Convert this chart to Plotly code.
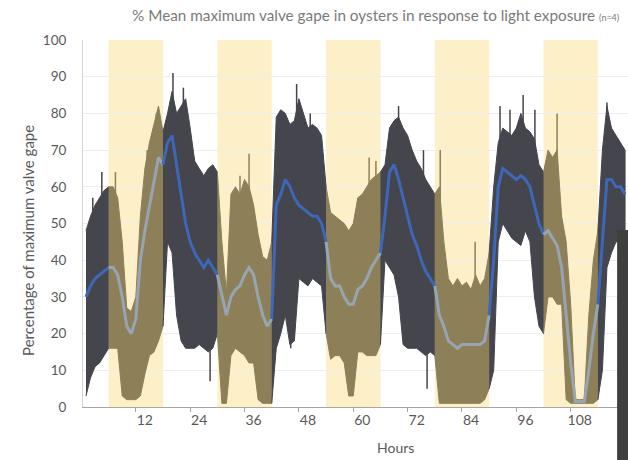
import plotly.graph_objects as go

# ---------------- data ----------------
hours = list(range(-1, 119))

upper = [48, 52, 55, 57, 59, 60,            # -1..4
         60, 57, 45, 27, 26, 30, 52, 65, 72, 77, 82, 75,   # 5..16
         80, 86, 80, 82, 84, 76, 67, 65, 63, 65, 66, 64,   # 17..28
         45, 31, 58, 60, 58, 62, 60, 55, 47, 41, 40, 45,   # 29..40
         79, 81, 80, 77, 78, 84, 80, 76, 77, 76, 74, 60,   # 41..52
         53, 52, 51, 50, 48, 50, 57, 58, 60, 62, 63, 64,   # 53..64
         66, 76, 78, 79, 76, 74, 70, 67, 65, 62, 60, 58,   # 65..76
         60, 45, 35, 33, 35, 33, 34, 32, 36, 33, 35, 42,   # 77..88
         60, 72, 76, 75, 74, 76, 80, 76, 75, 73, 66, 64,   # 89..100
         70, 68, 70, 52, 45, 28, 2, 2, 2, 25, 40, 48,      # 101..112
         70, 82, 76, 74, 72, 70]                           # 113..118

lower = [3, 8, 11, 12, 14, 16,
         16, 16, 3, 2, 2, 2, 3, 9, 14, 15, 18, 22,
         45, 42, 25, 18, 16, 16, 16, 17, 16, 15, 16, 20,
         1, 1, 14, 16, 15, 14, 12, 12, 2, 1, 1, 1,
         16, 20, 25, 17, 18, 35, 34, 33, 35, 34, 33, 20,
         13, 14, 14, 12, 3, 3, 15, 15, 14, 14, 14, 17,
         40, 38, 36, 30, 17, 16, 16, 16, 15, 14, 15, 14,
         1, 1, 1, 1, 1, 1, 1, 1, 1, 1, 2, 5,
         10, 45, 50, 48, 46, 45, 44, 48, 45, 30, 22, 20,
         30, 30, 28, 28, 2, 1, 1, 1, 1, 1, 1, 2,
         10, 38, 42, 45, 45, 46]

mean = [30, 33, 35, 36, 37, 38,
        38, 36, 30, 22, 20, 24, 40, 48, 55, 62, 68, 66,
        72, 74, 66, 58, 50, 45, 42, 40, 38, 40, 38, 36,
        30, 25, 30, 32, 33, 36, 38, 36, 30, 25, 22, 24,
        55, 58, 62, 60, 57, 55, 54, 53, 52, 52, 50, 45,
        35, 33, 33, 30, 28, 28, 32, 33, 35, 38, 40, 42,
        52, 64, 66, 62, 57, 52, 47, 44, 40, 37, 35, 33,
        25, 22, 18, 17, 16, 17, 17, 17, 17, 17, 18, 25,
        40, 60, 65, 64, 63, 62, 63, 62, 60, 55, 50, 47,
        48, 46, 44, 38, 25, 12, 1.5, 1.5, 1.5, 10, 20, 28,
        45, 62, 62, 60, 60, 58]

# isolated spikes (hour, low, high)
spike_hours = [0.5, 2.5, 5.5, 12.5, 14.5, 18.2, 20.5, 26.4, 33.0, 35.0,
               44.2, 45.5, 48.5, 61.5, 63.0, 68.0, 73.5, 74.3, 77.2, 84.9,
               90.4, 92.6, 95.5, 98.1, 103.0, 114.0]
spike_lows = [30, 40, 40, 30, 40, 60, 60, 7, 30, 30,
              16, 60, 50, 30, 30, 50, 40, 5, 30, 20,
              60, 60, 60, 50, 50, 60]
spike_highs = [57, 64, 64, 70, 80, 91, 87, 40, 63, 69,
               40, 88, 80, 68, 67, 82, 70, 30, 70, 45,
               82, 81, 85, 81, 80, 83]

light_starts = [4, 28, 52, 76, 100]
light_length = 12

tick_hours = [12, 24, 36, 48, 60, 72, 84, 96, 108]
tick_mark_hours = [10, 22, 34, 46, 58, 70, 82, 94, 106]
y_ticks = list(range(0, 101, 10))

title_text = "% Mean maximum valve gape in oysters in response to light exposure"
title_small = "(n=4)"
y_title = "Percentage of maximum valve gape"
x_title = "Hours"

# ---------------- styles ----------------
DARK = "#44454d"
KHAKI = "#8d8058"
BLUE = "#3e67b8"
PALE = "#97a4b1"
BAND = "#fdf0c9"
TXT = "#595959"
FONT = "Lato"


def is_light(h):
    return any(s <= h < s + light_length for s in light_starts)


fig = go.Figure()

edges = sorted({hours[0], hours[-1]}
               | {s for s in light_starts}
               | {s + light_length for s in light_starts})
edges = [e for e in edges if hours[0] <= e <= hours[-1]]
segments = []
for a, b in zip(edges[:-1], edges[1:]):
    idx = [i for i, h in enumerate(hours) if a <= h <= b]
    segments.append((is_light((a + b) / 2), idx))

# envelopes
for light, idx in segments:
    xs = [hours[i] for i in idx]
    up = [upper[i] for i in idx]
    lo = [lower[i] for i in idx]
    col = KHAKI if light else DARK
    fig.add_trace(go.Scatter(x=xs + xs[::-1], y=up + lo[::-1], fill="toself",
                             fillcolor=col, mode="lines",
                             line=dict(color=col, width=1),
                             hoverinfo="skip", showlegend=False))

# spikes
for light in (False, True):
    sx, sy = [], []
    for h, lo, hi in zip(spike_hours, spike_lows, spike_highs):
        if is_light(h) == light:
            sx += [h, h, None]
            sy += [lo, hi, None]
    fig.add_trace(go.Scatter(x=sx, y=sy, mode="lines",
                             line=dict(color=KHAKI if light else DARK, width=1.5),
                             hoverinfo="skip", showlegend=False))

# mean line
for light, idx in segments:
    fig.add_trace(go.Scatter(x=[hours[i] for i in idx], y=[mean[i] for i in idx],
                             mode="lines",
                             line=dict(color=PALE if light else BLUE, width=3),
                             hoverinfo="skip", showlegend=False))

shapes = [dict(type="rect", xref="x", yref="y", x0=s, x1=s + light_length,
               y0=0, y1=100, fillcolor=BAND, line=dict(width=0), layer="below")
          for s in light_starts]
shapes.append(dict(type="rect", xref="paper", yref="paper", x0=0.98, x1=1.02,
                   y0=0.482, y1=-0.2, fillcolor="#3d403d", line=dict(width=0),
                   layer="above"))

fig.update_layout(
    width=628, height=460,
    margin=dict(l=83, r=0, t=40, b=53),
    paper_bgcolor="white", plot_bgcolor="white",
    font=dict(family=FONT, color=TXT, size=14),
    shapes=shapes,
    xaxis=dict(range=[-1.66, 118.65], tickmode="array", tickvals=tick_hours,
               ticktext=[str(t) for t in tick_hours], ticks="",
               showline=True, linecolor="#a6a6a6", linewidth=1,
               showgrid=False, zeroline=False, automargin=False,
               tickfont=dict(size=14, color=TXT),
               minor=dict(tickmode="array", tickvals=tick_mark_hours,
                          ticks="outside", ticklen=4, tickcolor="#a6a6a6",
                          showgrid=False)),
    yaxis=dict(range=[0, 100], tickmode="array", tickvals=y_ticks, ticks="",
               showline=True, linecolor="#d4d4d4", linewidth=1,
               showgrid=True, gridcolor="#eeeeee", zeroline=False,
               automargin=False,
               tickfont=dict(size=13.5, color=TXT), ticklabelstandoff=13),
    annotations=[
        dict(text=f"{title_text} <span style='font-size:9px'>{title_small}</span>",
             xref="paper", yref="paper", x=0.536, y=1.068,
             xanchor="center", yanchor="middle", showarrow=False,
             font=dict(size=15.3, color="#7a7a7a", family=FONT)),
        dict(text=y_title, xref="paper", yref="paper", x=-0.101, y=0.455,
             textangle=-90, xanchor="center", yanchor="middle", showarrow=False,
             font=dict(size=15, color=TXT, family=FONT)),
        dict(text=x_title, xref="paper", yref="paper", x=0.574, y=-0.109,
             xanchor="center", yanchor="middle", showarrow=False,
             font=dict(size=14, color=TXT, family=FONT)),
    ],
)

fig.write_html("out.html", config={"displayModeBar": False},
               post_script="document.body.style.margin='0';")
